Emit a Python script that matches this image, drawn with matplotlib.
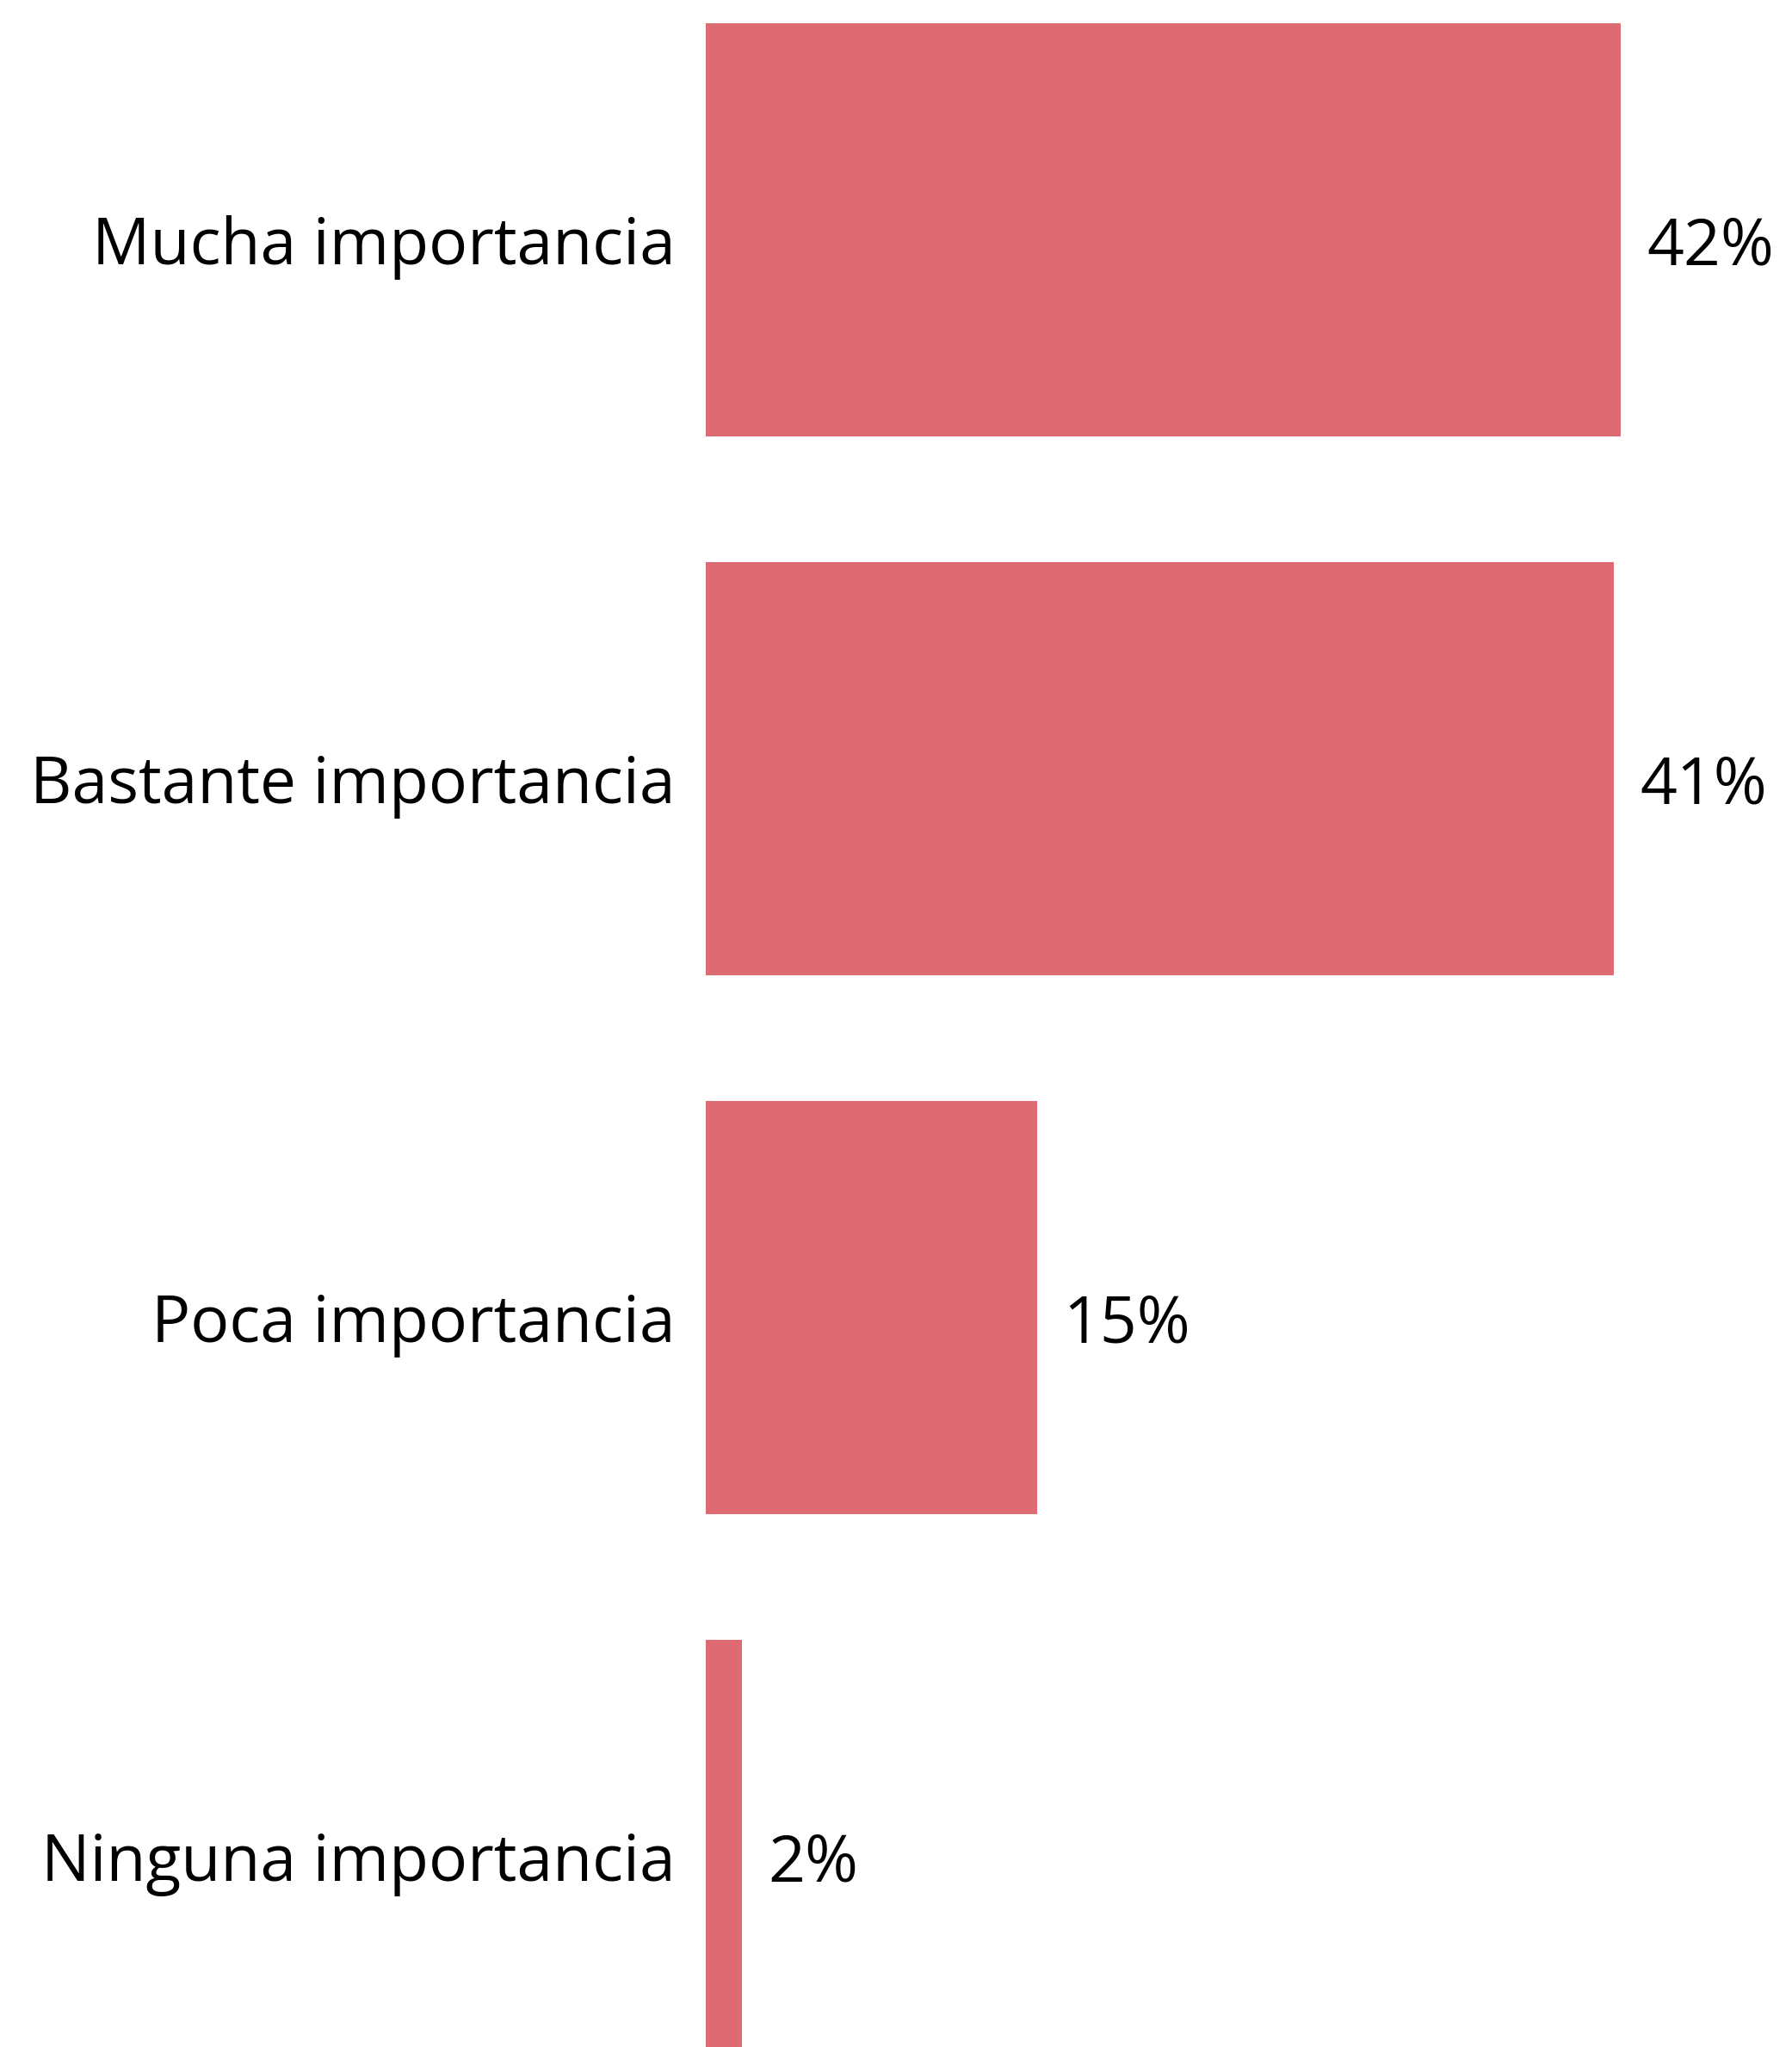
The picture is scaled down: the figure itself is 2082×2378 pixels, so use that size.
import matplotlib
matplotlib.use("Agg")
import matplotlib.pyplot as plt

categories = ["Mucha importancia", "Bastante importancia", "Poca importancia", "Ninguna importancia"]
values = [41.7, 41.4, 15.1, 1.65]
value_labels = ["42%", "41%", "15%", "2%"]

DPI = 100
W, H = 2082, 2378
plt.rcParams['font.family'] = ['Open Sans', 'DejaVu Sans']

fig = plt.figure(figsize=(W / DPI, H / DPI), dpi=DPI)
fig.patch.set_facecolor("white")

left_px = 820
ax = fig.add_axes([left_px / W, 0, (W - left_px) / W, 1])
px_per_unit = 1063 / 41.7
ax.set_xlim(0, (W - left_px) / px_per_unit)

pitch = 626
c0 = 267
ax.set_ylim((H - c0) / pitch, -c0 / pitch)

pos = list(range(len(categories)))
bars = ax.barh(pos, values, height=480 / pitch, color="#DE6A73", edgecolor="none")

fs = 54
pt = 72 / DPI
for i, (cat, v, lab) in enumerate(zip(categories, values, value_labels)):
    ax.annotate(cat, xy=(0, i), xytext=(-35 * pt, -40 * pt), textcoords="offset points",
                ha="right", va="baseline", fontsize=fs, color="black", annotation_clip=False)
    ax.annotate(lab, xy=(v, i), xytext=(30 * pt, -40 * pt), textcoords="offset points",
                ha="left", va="baseline", fontsize=fs, color="black", annotation_clip=False)

ax.set_axis_off()
fig.savefig("out.png", dpi=DPI, facecolor="white")
